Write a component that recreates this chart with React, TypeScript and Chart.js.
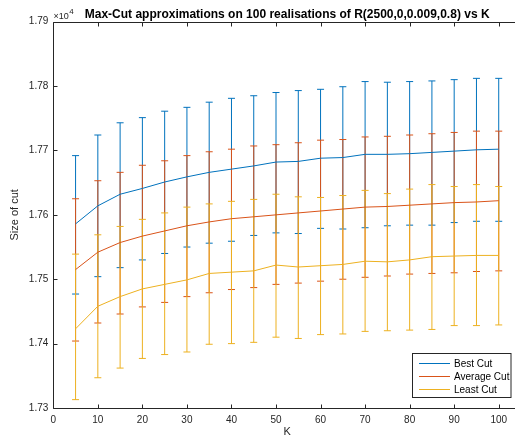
import React, { useEffect, useRef } from 'react';
import { Chart, registerables } from 'chart.js';
Chart.register(...registerables);

const K = [5, 10, 15, 20, 25, 30, 35, 40, 45, 50, 55, 60, 65, 70, 75, 80, 85, 90, 95, 100];

const bestMean = [17586, 17614, 17632, 17641, 17651, 17659, 17666, 17671, 17676, 17682, 17683, 17688, 17689, 17694, 17694, 17695, 17697, 17699, 17701, 17702];
const bestUpper = [17692, 17724, 17743, 17751, 17761, 17767, 17775, 17781, 17785, 17790, 17793, 17795, 17799, 17807, 17806, 17807, 17808, 17810, 17812, 17812];
const bestLower = [17477, 17504, 17518, 17530, 17540, 17550, 17556, 17559, 17568, 17572, 17571, 17579, 17578, 17580, 17583, 17584, 17584, 17588, 17590, 17590];

const avgMean = [17515, 17542, 17557, 17567, 17575, 17583, 17589, 17594, 17597, 17600, 17603, 17606, 17609, 17612, 17613, 17615, 17617, 17619, 17620, 17622];
const avgUpper = [17625, 17653, 17666, 17677, 17684, 17692, 17698, 17702, 17707, 17709, 17712, 17716, 17717, 17721, 17722, 17724, 17726, 17728, 17730, 17730];
const avgLower = [17404, 17432, 17446, 17457, 17464, 17473, 17479, 17484, 17487, 17492, 17494, 17497, 17500, 17503, 17505, 17508, 17509, 17510, 17512, 17513];

const leastMean = [17423, 17458, 17473, 17485, 17492, 17499, 17509, 17511, 17513, 17522, 17519, 17521, 17523, 17528, 17527, 17530, 17535, 17536, 17537, 17537];
const leastUpper = [17539, 17569, 17582, 17593, 17603, 17612, 17617, 17621, 17624, 17632, 17628, 17627, 17630, 17638, 17633, 17640, 17647, 17644, 17647, 17644];
const leastLower = [17313, 17347, 17362, 17377, 17383, 17387, 17399, 17400, 17402, 17410, 17408, 17414, 17415, 17419, 17420, 17421, 17422, 17428, 17428, 17429];

const seriesLabels = ['Best Cut', 'Average Cut', 'Least Cut'];
const X_TICKS = [0, 10, 20, 30, 40, 50, 60, 70, 80, 90, 100];
const Y_TICKS = [17300, 17400, 17500, 17600, 17700, 17800, 17900];

const TITLE = 'Max-Cut approximations on 100 realisations of R(2500,0,0.009,0.8) vs K';
const X_LABEL = 'K';
const Y_LABEL = 'Size of cut';

const COLORS = ['#0072BD', '#D95319', '#EDB120'];
const FONT = '"Liberation Sans", Arial, sans-serif';
const AXIS_COLOR = '#262626';

const CW = 530;
const CH = 443;

const errors = [
  { upper: bestUpper, lower: bestLower },
  { upper: avgUpper, lower: avgLower },
  { upper: leastUpper, lower: leastLower },
];

const decorPlugin = {
  id: 'matlabDecor',
  beforeDatasetsDraw(chart: any) {
    const { ctx, scales, chartArea } = chart;
    const xs = scales.x;
    const ys = scales.y;
    ctx.save();
    ctx.beginPath();
    ctx.rect(chartArea.left, chartArea.top, chartArea.right - chartArea.left, chartArea.bottom - chartArea.top);
    ctx.clip();
    ctx.lineWidth = 1;
    errors.forEach((e, si) => {
      ctx.strokeStyle = COLORS[si];
      K.forEach((k, i) => {
        const px = xs.getPixelForValue(k);
        const pu = ys.getPixelForValue(e.upper[i]);
        const pl = ys.getPixelForValue(e.lower[i]);
        ctx.beginPath();
        ctx.moveTo(px, pu);
        ctx.lineTo(px, pl);
        ctx.moveTo(px - 3.5, pu);
        ctx.lineTo(px + 3.5, pu);
        ctx.moveTo(px - 3.5, pl);
        ctx.lineTo(px + 3.5, pl);
        ctx.stroke();
      });
    });
    ctx.restore();
  },
  afterDraw(chart: any) {
    const { ctx, scales, chartArea } = chart;
    const xs = scales.x;
    const ys = scales.y;
    const L = Math.round(chartArea.left) + 0.5;
    const R = Math.round(chartArea.right) + 0.5;
    const T = Math.round(chartArea.top) + 0.5;
    const B = Math.round(chartArea.bottom) + 0.5;
    ctx.save();
    // box
    ctx.strokeStyle = AXIS_COLOR;
    ctx.lineWidth = 1;
    ctx.beginPath();
    ctx.rect(L, T, R - L, B - T);
    ctx.stroke();
    // ticks inward
    ctx.beginPath();
    X_TICKS.forEach((v) => {
      const px = Math.round(xs.getPixelForValue(v)) + 0.5;
      ctx.moveTo(px, B);
      ctx.lineTo(px, B - 4);
      ctx.moveTo(px, T);
      ctx.lineTo(px, T + 4);
    });
    Y_TICKS.forEach((v) => {
      const py = Math.round(ys.getPixelForValue(v)) + 0.5;
      ctx.moveTo(L, py);
      ctx.lineTo(L + 4, py);
      ctx.moveTo(R, py);
      ctx.lineTo(R - 4, py);
    });
    ctx.stroke();

    // title
    ctx.fillStyle = '#000';
    ctx.font = `bold 12px ${FONT}`;
    ctx.textAlign = 'center';
    ctx.textBaseline = 'alphabetic';
    ctx.fillText(TITLE, (chartArea.left + chartArea.right) / 2, 17.5);

    // exponent
    ctx.fillStyle = AXIS_COLOR;
    ctx.textAlign = 'left';
    ctx.font = `9px ${FONT}`;
    ctx.fillText('\u00d710', 53.5, 18.5);
    const w = ctx.measureText('\u00d710').width;
    ctx.font = `8px ${FONT}`;
    ctx.fillText('4', 53.5 + w + 0.5, 14);

    // axis labels
    ctx.font = `11px ${FONT}`;
    ctx.textAlign = 'center';
    ctx.textBaseline = 'middle';
    ctx.fillText(X_LABEL, (chartArea.left + chartArea.right) / 2, 432);
    ctx.save();
    ctx.translate(15, (chartArea.top + chartArea.bottom) / 2);
    ctx.rotate(-Math.PI / 2);
    ctx.fillText(Y_LABEL, 0, 0);
    ctx.restore();

    // legend
    const lx = 412.5, ly = 353.5, lw = 98.5, lh = 44;
    ctx.fillStyle = '#fff';
    ctx.fillRect(lx, ly, lw, lh);
    ctx.strokeStyle = AXIS_COLOR;
    ctx.strokeRect(lx, ly, lw, lh);
    const rows = [363.5, 376.5, 389.5];
    ctx.font = `10px ${FONT}`;
    ctx.textAlign = 'left';
    ctx.textBaseline = 'middle';
    seriesLabels.forEach((lab, i) => {
      ctx.strokeStyle = COLORS[i];
      ctx.beginPath();
      ctx.moveTo(419, rows[i]);
      ctx.lineTo(450, rows[i]);
      ctx.stroke();
      ctx.fillStyle = '#000';
      ctx.fillText(lab, 454, rows[i] + 0.5);
    });
    ctx.restore();
  },
};

export default function App() {
  const ref = useRef<HTMLCanvasElement | null>(null);
  useEffect(() => {
    if (!ref.current) return;
    const means = [bestMean, avgMean, leastMean];
    const chart = new Chart(ref.current, {
      type: 'line',
      data: {
        datasets: means.map((m, si) => ({
          label: seriesLabels[si],
          data: K.map((k, i) => ({ x: k, y: m[i] })),
          borderColor: COLORS[si],
          backgroundColor: COLORS[si],
          borderWidth: 1,
          pointRadius: 0,
          tension: 0,
          fill: false,
        })),
      },
      options: {
        responsive: false,
        animation: false,
        devicePixelRatio: 1,
        layout: { padding: { left: 0, top: 21.7, right: CW - 521, bottom: 0 } },
        plugins: {
          legend: { display: false },
          title: { display: false },
          tooltip: { enabled: false },
        },
        scales: {
          x: {
            type: 'linear',
            min: 0,
            max: 105,
            grid: { display: false, drawTicks: false },
            border: { display: false },
            afterBuildTicks: (axis: any) => {
              axis.ticks = X_TICKS.map((v) => ({ value: v }));
            },
            afterFit: (scale: any) => {
              scale.height = CH - 408;
            },
            ticks: {
              autoSkip: false,
              maxRotation: 0,
              padding: 6,
              color: AXIS_COLOR,
              font: { family: FONT, size: 10 },
              callback: (v: any) => String(v),
            },
          },
          y: {
            type: 'linear',
            min: 17300,
            max: 17900,
            grid: { display: false, drawTicks: false },
            border: { display: false },
            afterBuildTicks: (axis: any) => {
              axis.ticks = Y_TICKS.map((v) => ({ value: v }));
            },
            afterFit: (scale: any) => {
              scale.width = 53.3;
            },
            ticks: {
              padding: 5,
              color: AXIS_COLOR,
              font: { family: FONT, size: 10 },
              callback: (v: any) => (Number(v) / 10000).toFixed(2),
            },
          },
        },
      },
      plugins: [decorPlugin],
    });
    return () => chart.destroy();
  }, []);
  return (
    <div style={{ position: 'fixed', left: 0, top: 0, width: 515, height: 443, overflow: 'hidden', background: '#fff' }}>
      <canvas ref={ref} width={CW} height={CH} style={{ display: 'block', width: CW, height: CH }} />
    </div>
  );
}
